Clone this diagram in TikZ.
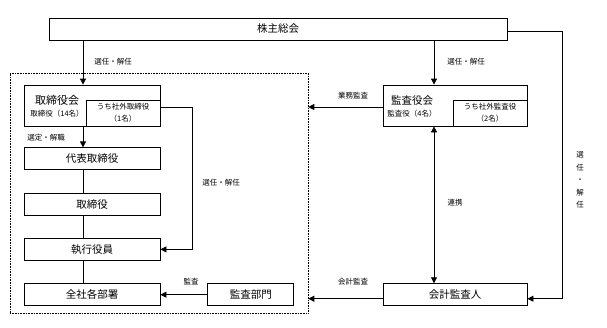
\documentclass[tikz,border=0pt]{standalone}
\usepackage{fontspec}
\setmainfont{Noto Sans CJK JP}
\usetikzlibrary{positioning, arrows.meta, calc}

\begin{document}
\begin{tikzpicture}[
    x=1pt, y=-1pt,
    node distance=22.5pt and 47pt,
    box/.style={draw, line width=0.8pt, minimum width=136pt, minimum height=22pt,
      inner sep=0pt, font=\fontsize{10.5}{12}\selectfont},
    subbox/.style={draw, line width=0.8pt, minimum width=74pt, minimum height=26pt,
      inner sep=0pt, align=center, font=\fontsize{7.5}{12}\selectfont},
    lbl/.style={font=\fontsize{7.5}{9}\selectfont, inner sep=1pt},
    frame/.style={draw, densely dotted, line width=0.6pt, inner sep=0pt},
    arr/.style={-{Triangle[length=6pt, width=6pt]}, line width=0.8pt},
    dblarr/.style={{Triangle[length=6pt, width=6pt]}-{Triangle[length=6pt, width=6pt]}, line width=0.8pt}
  ]
    \useasboundingbox (0,0) rectangle (607,327);
    \coordinate (lspine) at (83,0);
    \coordinate (rspine) at (434,0);

    \node[box, minimum width=458pt] (gms) at (278,29) {株主総会};
    \node[frame, minimum width=298pt, minimum height=240pt] (grp) at (159,193) {};

    % board of directors
    \node[box, minimum height=41pt] (brd) at (92,105.5) {};
    \node[subbox, anchor=south east] (outbrd) at (brd.south east) {うち社外取締役\\（1名）};
    \node[align=center, inner sep=0pt] (brdtxt) at (57,106)
      {{\fontsize{11}{12}\selectfont 取締役会}\\{\fontsize{7.5}{9}\selectfont 取締役（14名）}};
    \node[box, below=21pt of brd] (rep) {代表取締役};
    \node[box, below=of rep] (dir) {取締役};
    \node[box, below=of dir] (exe) {執行役員};
    \node[box, below=of exe] (dept) {全社各部署};
    \node[box, minimum width=86pt, right=of dept] (iad) {監査部門};

    % auditors
    \node[box, minimum width=144pt, minimum height=41pt] (kan) at (455,105.5) {};
    \node[subbox, anchor=south east] (outaud) at (kan.south east) {うち社外監査役\\（2名）};
    \node[align=center, inner sep=0pt] (kantxt) at (412,106)
      {{\fontsize{10.5}{12}\selectfont 監査役会}\\{\fontsize{7.5}{9}\selectfont 監査役（4名）}};
    \node[box, minimum width=144pt] (acc) at (kan |- dept) {会計監査人};

    \draw[arr] (gms.south -| lspine) -- (brd.north -| lspine);
    \draw[arr] (brd.south -| lspine) -- (rep.north -| lspine);
    \draw[line width=0.8pt] (rep.south -| lspine) -- (dir.north -| lspine);
    \draw[line width=0.8pt] (dir.south -| lspine) -- (exe.north -| lspine);
    \draw[line width=0.8pt] (exe.south -| lspine) -- (dept.north -| lspine);
    \draw[arr] ([yshift=6pt]outbrd.east) -- ++(32,0) |- (exe.east);
    \draw[arr] (iad) -- (dept);

    \draw[arr] (gms.south -| rspine) -- (kan.north -| rspine);
    \draw[dblarr] (kan.south -| rspine) -- (acc.north -| rspine);
    \draw[arr] ([yshift=-1.5pt]kan.west) -- ([yshift=-1.5pt]kan.west -| grp.east);
    \draw[arr] ([yshift=-4pt]acc.west) -- ([yshift=-4pt]acc.west -| grp.east);
    \draw[arr] ([yshift=-2pt]gms.east) -- ++(55,0) |- ([yshift=-4pt]acc.east);

    \node[lbl] (l1) at (113,62) {選任・解任};
    \node[lbl] (l2) at (46,138) {選定・解職};
    \node[lbl] (l3) at (221,183) {選任・解任};
    \node[lbl] (l4) at (191,282) {監査};
    \node[lbl] (l5) at (466,62) {選任・解任};
    \node[lbl] (l6) at (353,96) {業務監査};
    \node[lbl] (l7) at (455,203) {連携};
    \node[lbl] (l8) at (353,282) {会計監査};
    \node[lbl, align=center, font=\fontsize{7.5}{12.5}\selectfont] (l9) at (580,180) {選\\任\\・\\解\\任};
\end{tikzpicture}
\end{document}
